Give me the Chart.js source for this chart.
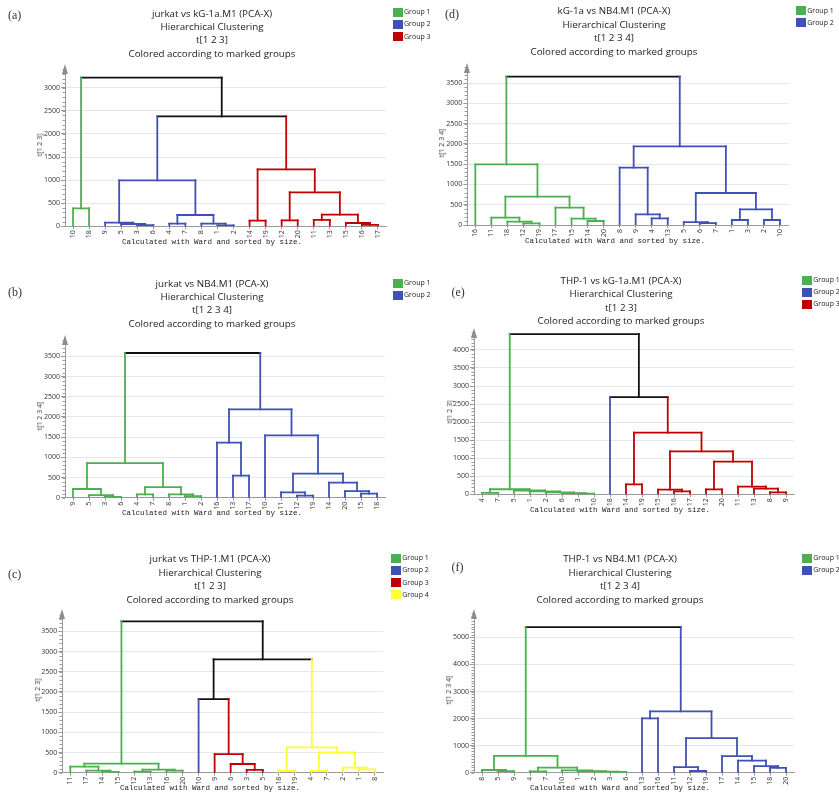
<!DOCTYPE html>
<html>
<head>
<meta charset="utf-8">
<script src="https://cdn.jsdelivr.net/npm/chart.js@4.4.1/dist/chart.umd.min.js"></script>
<style>
html,body{margin:0;padding:0;background:#fff;}
body{width:839px;height:798px;position:relative;overflow:hidden;font-family:"Open Sans",sans-serif;color:#222;}
canvas{position:absolute;}
.ttl{position:absolute;text-align:center;font-size:9.8px;line-height:13.4px;color:#222;transform:translateX(-50%);white-space:nowrap;}
.lab{position:absolute;font-family:"Liberation Serif",serif;font-size:12px;line-height:12px;color:#333;transform:translateY(-50%);}
.lgb{position:absolute;width:10px;height:9px;}
.lgt{position:absolute;font-size:7px;line-height:8px;color:#222;transform:translateY(-50%);white-space:nowrap;}
.yt{position:absolute;font-size:7px;line-height:8px;color:#333;transform:translate(-50%,-50%) rotate(-90deg);white-space:nowrap;}
.ft{position:absolute;font-family:"Liberation Mono",monospace;font-size:7.5px;line-height:8px;color:#222;transform:translate(-50%,-50%);white-space:nowrap;}
</style>
</head>
<body>
<script>
// ---------------- DATA ----------------
const groupNames = ['Group 1', 'Group 2', 'Group 3', 'Group 4'];
const footerText = 'Calculated with Ward and sorted by size.';

// (a) jurkat vs kG-1a
const titleA = ['jurkat vs kG-1a.M1 (PCA-X)', 'Hierarchical Clustering', 't[1 2 3]', 'Colored according to marked groups'];
const yTitleA = 't[1 2 3]';
const leavesA = ['10','18','9','5','3','6','4','7','8','1','2','14','19','12','20','11','13','15','16','17'];
const leafGroupA = [0,0,1,1,1,1,1,1,1,1,1,2,2,2,2,2,2,2,2,2];
// [childA, childB, height, group(4 = black link)]
const linkA = [[0,1,390,0],[4,5,25,1],[3,21,50,1],[2,22,80,1],[6,7,57,1],[9,10,20,1],[8,25,57,1],[24,26,245,1],[23,27,995,1],
  [11,12,123,2],[13,14,130,2],[15,16,137,2],[18,19,29,2],[17,32,72,2],[31,33,252,2],[30,34,735,2],[29,35,1233,2],[28,36,2380,4],[20,37,3220,4]];
const yTicksA = [0,500,1000,1500,2000,2500,3000];

// (d) kG-1a vs NB4
const titleD = ['kG-1a vs NB4.M1 (PCA-X)', 'Hierarchical Clustering', 't[1 2 3 4]', 'Colored according to marked groups'];
const yTitleD = 't[1 2 3 4]';
const leavesD = ['16','11','18','12','19','17','15','14','20','8','9','4','13','5','6','7','1','3','2','10'];
const leafGroupD = [0,0,0,0,0,0,0,0,0,1,1,1,1,1,1,1,1,1,1,1];
const linkD = [[3,4,41,0],[2,20,82,0],[1,21,181,0],[7,8,99,0],[6,23,156,0],[5,24,427,0],[22,25,699,0],[0,26,1496,0],
  [11,12,164,1],[10,28,263,1],[9,29,1414,1],[14,15,45,1],[13,31,70,1],[16,17,123,1],[18,19,123,1],[33,34,386,1],[32,35,789,1],[30,36,1940,1],[27,37,3658,4]];
const yTicksD = [0,500,1000,1500,2000,2500,3000,3500];

// (b) jurkat vs NB4
const titleB = ['jurkat vs NB4.M1 (PCA-X)', 'Hierarchical Clustering', 't[1 2 3 4]', 'Colored according to marked groups'];
const yTitleB = 't[1 2 3 4]';
const leavesB = ['9','5','3','6','4','7','8','1','2','16','13','17','10','11','12','19','14','20','15','18'];
const leafGroupB = [0,0,0,0,0,0,0,0,0,1,1,1,1,1,1,1,1,1,1,1];
const linkB = [[2,3,20,0],[1,20,66,0],[0,21,215,0],[4,5,83,0],[7,8,41,0],[6,24,83,0],[23,25,264,0],[22,26,858,0],
  [10,11,545,1],[9,28,1362,1],[14,15,50,1],[13,30,132,1],[18,19,99,1],[17,32,165,1],[16,33,371,1],[31,34,594,1],[12,35,1544,1],[29,36,2188,1],[27,37,3583,4]];
const yTicksB = [0,500,1000,1500,2000,2500,3000,3500];

// (e) THP-1 vs kG-1a
const titleE = ['THP-1 vs kG-1a.M1 (PCA-X)', 'Hierarchical Clustering', 't[1 2 3]', 'Colored according to marked groups'];
const yTitleE = 't[1 2 3]';
const leavesE = ['4','7','5','1','2','6','3','10','18','14','19','15','16','17','12','20','11','13','8','9'];
const leafGroupE = [0,0,0,0,0,0,0,0,1,2,2,2,2,2,2,2,2,2,2,2];
const linkE = [[0,1,40,0],[6,7,15,0],[5,21,30,0],[4,22,55,0],[3,23,80,0],[2,24,105,0],[20,25,140,0],
  [9,10,277,2],[12,13,83,2],[11,28,129,2],[14,15,139,2],[18,19,55,2],[17,31,157,2],[16,32,213,2],[30,33,905,2],[29,34,1192,2],[27,35,1709,2],[8,36,2690,4],[26,37,4440,4]];
const yTicksE = [0,500,1000,1500,2000,2500,3000,3500,4000];

// (c) jurkat vs THP-1
const titleC = ['jurkat vs THP-1.M1 (PCA-X)', 'Hierarchical Clustering', 't[1 2 3]', 'Colored according to marked groups'];
const yTitleC = 't[1 2 3]';
const leavesC = ['11','17','14','15','12','13','16','20','10','9','6','3','5','18','19','4','7','2','1','8'];
const leafGroupC = [0,0,0,0,0,0,0,0,1,2,2,2,2,3,3,3,3,3,3,3];
const linkC = [[2,3,20,0],[1,20,50,0],[0,21,149,0],[4,5,25,0],[6,7,50,0],[23,24,74,0],[22,25,223,0],
  [11,12,70,2],[10,27,215,2],[9,28,460,2],[8,29,1824,4],
  [13,14,42,3],[15,16,45,3],[18,19,80,3],[17,33,128,3],[32,34,500,3],[31,35,628,3],[30,36,2807,4],[26,37,3748,4]];
const yTicksC = [0,500,1000,1500,2000,2500,3000,3500];

// (f) THP-1 vs NB4
const titleF = ['THP-1 vs NB4.M1 (PCA-X)', 'Hierarchical Clustering', 't[1 2 3 4]', 'Colored according to marked groups'];
const yTitleF = 't[1 2 3 4]';
const leavesF = ['8','5','9','4','7','10','1','2','3','6','13','16','11','12','19','17','14','15','18','20'];
const leafGroupF = [0,0,0,0,0,0,0,0,0,0,1,1,1,1,1,1,1,1,1,1];
const linkF = [[1,2,61,0],[0,20,99,0],[3,4,49,0],[8,9,25,0],[7,23,37,0],[6,24,61,0],[5,25,85,0],[22,26,190,0],[21,27,620,0],
  [10,11,2008,1],[13,14,62,1],[12,30,209,1],[18,19,178,1],[17,32,240,1],[16,33,443,1],[15,34,613,1],[31,35,1281,1],[29,36,2267,1],[28,37,5384,4]];
const yTicksF = [0,1000,2000,3000,4000,5000];

// ---------------- STYLE / LAYOUT ----------------
const COLORS = ['#4caf50', '#3f51b5', '#c00000', '#ffff33', '#111111'];

const panels = [
  {tag:'(a)', title:titleA, ytitle:yTitleA, leaves:leavesA, groups:leafGroupA, links:linkA, yticks:yTicksA, nGroups:3,
   cv:{x:0,y:0,w:420,h:258}, plot:{l:65,r:386,t:67,b:226.3}, yMax:3450,
   tagPos:[8,15], ttl:[212,13.3], lg:[392.5,12.3], yt:[40,145], ft:[212,242]},
  {tag:'(d)', title:titleD, ytitle:yTitleD, leaves:leavesD, groups:leafGroupD, links:linkD, yticks:yTicksD, nGroups:2,
   cv:{x:420,y:0,w:419,h:258}, plot:{l:467.3,r:788,t:66,b:225}, yMax:3920,
   tagPos:[445,13.5], ttl:[614,11], lg:[795.7,10.7], yt:[441.7,143], ft:[615,240.7]},
  {tag:'(b)', title:titleB, ytitle:yTitleB, leaves:leavesB, groups:leafGroupB, links:linkB, yticks:yTicksB, nGroups:2,
   cv:{x:0,y:258,w:420,h:262}, plot:{l:65,r:385,t:338,b:497.7}, yMax:3955,
   tagPos:[8,291.7], ttl:[212,283.3], lg:[392.5,283], yt:[40,416], ft:[212,513]},
  {tag:'(e)', title:titleE, ytitle:yTitleE, leaves:leavesE, groups:leafGroupE, links:linkE, yticks:yTicksE, nGroups:3,
   cv:{x:420,y:258,w:419,h:262}, plot:{l:474,r:794,t:331,b:494.3}, yMax:4525,
   tagPos:[451.5,291.7], ttl:[621,280.7], lg:[801.7,280], yt:[450,412], ft:[620,510]},
  {tag:'(c)', title:titleC, ytitle:yTitleC, leaves:leavesC, groups:leafGroupC, links:linkC, yticks:yTicksC, nGroups:4,
   cv:{x:0,y:530,w:420,h:268}, plot:{l:62.3,r:383,t:612,b:772.7}, yMax:3980,
   tagPos:[8,574], ttl:[210,559], lg:[390.7,558.3], yt:[38,690], ft:[210,788]},
  {tag:'(f)', title:titleF, ytitle:yTitleF, leaves:leavesF, groups:leafGroupF, links:linkF, yticks:yTicksF, nGroups:2,
   cv:{x:420,y:530,w:419,h:268}, plot:{l:474,r:794,t:612,b:772.7}, yMax:5940,
   tagPos:[451.5,567.3], ttl:[620,559], lg:[801.7,558.3], yt:[449,690], ft:[620,788]}
];

const Y_W = 40, X_H = 20;

const axisDeco = {
  id: 'axisDeco',
  afterDraw(chart) {
    const {ctx, chartArea: a} = chart;
    const y = chart.scales.y;
    ctx.save();
    ctx.strokeStyle = '#9a9a9a';
    ctx.lineWidth = 1;
    const x0 = Math.round(a.left);
    for (let v = 0; v <= y.max; v += 100) {
      const py = Math.round(y.getPixelForValue(v)) + 0.5;
      ctx.beginPath(); ctx.moveTo(x0 - 2.5, py); ctx.lineTo(x0, py); ctx.stroke();
    }
    ctx.fillStyle = '#8c8c8c';
    ctx.beginPath();
    ctx.moveTo(x0, a.top - 3);
    ctx.lineTo(x0 - 3, a.top + 7);
    ctx.lineTo(x0 + 3, a.top + 7);
    ctx.closePath(); ctx.fill();
    ctx.restore();
  }
};

function addDiv(cls, x, y, html) {
  const d = document.createElement('div');
  d.className = cls;
  d.style.left = x + 'px';
  d.style.top = y + 'px';
  d.innerHTML = html;
  document.body.appendChild(d);
  return d;
}

function build(p) {
  const n = p.leaves.length;
  const xs = p.leaves.map((_, i) => i);
  const hs = p.leaves.map(() => 0);
  const cols = p.groups.slice();
  const parent = [];
  p.links.forEach(([a, b, h, c], k) => {
    const id = n + k;
    xs[id] = (xs[a] + xs[b]) / 2; hs[id] = h; cols[id] = c;
    parent[a] = id; parent[b] = id;
  });
  const datasets = [];
  const seg = (pts, col) => ({
    data: pts, borderColor: col, borderWidth: 1.8, pointRadius: 0, fill: false,
    tension: 0, borderCapStyle: 'square', borderJoinStyle: 'miter'
  });
  for (let id = 0; id < n + p.links.length; id++) {
    if (parent[id] !== undefined) {
      datasets.push(seg([{x: xs[id], y: hs[id]}, {x: xs[id], y: hs[parent[id]]}], COLORS[cols[id]]));
    }
  }
  p.links.forEach(([a, b, h, c]) => {
    datasets.push(seg([{x: xs[a], y: h}, {x: xs[b], y: h}], COLORS[c]));
  });

  const cv = document.createElement('canvas');
  cv.width = p.cv.w; cv.height = p.cv.h;
  cv.style.left = p.cv.x + 'px'; cv.style.top = p.cv.y + 'px';
  cv.style.width = p.cv.w + 'px'; cv.style.height = p.cv.h + 'px';
  document.body.appendChild(cv);

  const pad = {
    left: p.plot.l - p.cv.x - Y_W,
    top: p.plot.t - p.cv.y,
    right: p.cv.x + p.cv.w - p.plot.r,
    bottom: p.cv.y + p.cv.h - p.plot.b - X_H
  };

  new Chart(cv, {
    type: 'line',
    data: {datasets},
    options: {
      responsive: false, animation: false, devicePixelRatio: 1,
      layout: {padding: pad},
      plugins: {legend: {display: false}, tooltip: {enabled: false}, title: {display: false}},
      events: [],
      scales: {
        x: {
          type: 'linear', min: -0.5, max: n - 0.5,
          afterBuildTicks: s => { s.ticks = p.leaves.map((_, i) => ({value: i})); },
          afterFit: s => { s.height = X_H; },
          ticks: {autoSkip: false, minRotation: 90, maxRotation: 90, padding: 1,
            callback: (v, i) => p.leaves[i], color: '#333', font: {family: 'Open Sans', size: 7}},
          grid: {drawOnChartArea: false, drawTicks: true, tickLength: 3, tickColor: '#9a9a9a'},
          border: {color: '#9a9a9a', width: 1}
        },
        y: {
          type: 'linear', min: 0, max: p.yMax,
          afterBuildTicks: s => { s.ticks = p.yticks.map(v => ({value: v})); },
          afterFit: s => { s.width = Y_W; },
          ticks: {padding: 1, callback: v => String(v), color: '#333', font: {family: 'Open Sans', size: 7}},
          grid: {color: '#e6e6e6', lineWidth: 1, drawTicks: true, tickLength: 4, tickColor: '#9a9a9a'},
          border: {color: '#9a9a9a', width: 1}
        }
      }
    },
    plugins: [axisDeco]
  });

  // text
  addDiv('lab', p.tagPos[0], p.tagPos[1], p.tag);
  addDiv('ttl', p.ttl[0], p.ttl[1] - 6.7, p.title.join('<br>'));
  for (let g = 0; g < p.nGroups; g++) {
    const cy = p.lg[1] + g * 12.1;
    const b = addDiv('lgb', p.lg[0], cy - 4.5, '');
    b.style.background = COLORS[g];
    addDiv('lgt', p.lg[0] + 11.5, cy, groupNames[g]);
  }
  addDiv('yt', p.yt[0], p.yt[1], p.ytitle);
  addDiv('ft', p.ft[0], p.ft[1], footerText);
}

panels.forEach(build);
</script>
</body>
</html>
